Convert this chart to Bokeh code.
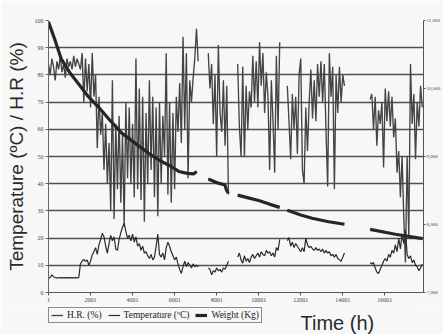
import numpy as np
from bokeh.plotting import figure
from bokeh.layouts import column
from bokeh.models import (Range1d, LinearAxis, FixedTicker, NumeralTickFormatter,
                          Legend, LegendItem, Label)
from bokeh.embed import file_html
from bokeh.resources import INLINE

# ---------------- data ----------------
STEP_H = 80  # hours between readings inside a recorded segment
seg_start = [1, 7601, 9001, 11361, 15301]

hr_1 = [84, 80, 86, 83, 78, 85, 82, 87, 81, 84, 79, 86, 83, 85, 82, 87, 83, 86, 84, 82, 88,
        70, 86, 74, 84, 68, 88, 72, 80,
        53, 72, 58, 66, 45, 62, 40, 55,
        30, 78, 27, 62, 38, 65, 33, 58, 25, 70, 42, 68, 40, 62, 35, 86, 38, 75, 34, 72, 26, 66, 40, 78,
        45, 72, 35, 68, 28, 70, 40, 65, 50, 88, 36, 70, 33, 66, 38, 72, 59, 77, 55, 94, 60, 88, 42,
        78, 70, 79, 86, 97, 85]
hr_2 = [88, 75, 84, 62, 80, 50, 91, 66, 59, 78, 54, 76, 36]
hr_3 = [84, 61, 50, 83, 50, 76, 60, 74, 68, 87, 70, 85, 68, 92, 76, 88, 66, 81, 72, 45, 78, 63,
        44, 87, 60, 92]
hr_4 = [76, 63, 49, 73, 60, 72, 51, 80, 86, 45, 40, 68, 52, 70, 82, 64, 78, 63, 84, 72, 85, 70,
        84, 60, 39, 88, 72, 83, 38, 80, 66, 83, 70, 80, 76]
hr_5 = [71, 73, 60, 72, 54, 67, 62, 70, 46, 75, 63, 74, 61, 72, 57, 64, 44, 52, 35, 50, 28, 11,
        50, 20, 84, 62, 73, 49, 70, 61, 76, 68]

temp_1 = [5.2, 5.5, 6.5, 5.8, 5.5, 5.3, 5.5, 5.4, 5.5, 5.4, 5.5, 5.4, 5.5, 5.4, 5.5, 5.4, 5.5, 5.4, 5.5,
          10.5, 11.5, 12.2, 11.4, 12.0, 10.0, 11.5, 13.8, 15.0, 16.5,
          14.0, 17.5, 19.5, 21.8, 20.5, 17.0, 14.5, 18.0, 21.0, 19.0,
          20.5, 16.0, 15.5, 19.5, 22.0, 24.0, 25.5, 22.5, 20.0, 21.0,
          19.0, 21.5, 18.5, 20.5, 17.0, 18.0, 15.5, 17.0, 14.5, 15.0,
          13.5, 12.5, 14.0, 12.0, 13.0, 17.0, 21.5, 14.0, 13.0, 14.5,
          12.0, 16.5, 18.5, 17.0, 15.0, 13.5, 12.0, 13.0, 10.5, 8.5,
          7.0, 9.5, 11.5, 9.5, 11.0, 10.0, 9.0, 10.5, 9.5, 10.0, 9.5]
temp_2 = [9.0, 8.5, 6.5, 8.0, 7.5, 9.0, 8.0, 8.5, 7.5, 9.0, 8.5, 10.0, 11.5]
temp_3 = [13.0, 14.5, 12.0, 10.8, 13.5, 11.5, 12.5, 11.0, 13.0, 14.0, 12.5, 13.5, 14.5, 13.0,
          15.0, 14.0, 13.5, 15.5, 14.5, 15.0, 13.5, 14.5, 13.0, 16.5, 15.5, 19.5]
temp_4 = [19.0, 20.2, 17.0, 18.5, 16.5, 18.0, 17.0, 16.0, 15.0, 16.5, 15.0, 20.0, 17.5, 16.5,
          17.0, 16.0, 15.5, 16.5, 15.5, 16.0, 15.0, 16.0, 14.5, 15.5, 14.5, 15.0, 13.5, 14.0,
          13.0, 14.0, 12.5, 12.0, 11.5, 13.0, 14.5]
temp_5 = [11.0, 10.5, 11.0, 9.0, 7.5, 7.0, 8.5, 10.0, 11.5, 12.5, 11.5, 14.0, 13.0, 15.5, 14.5,
          17.5, 15.0, 20.0, 16.0, 21.5, 18.0, 23.0, 14.0, 12.5, 13.5, 11.0, 12.0, 10.0, 9.5,
          8.0, 9.0, 10.5]

w_t1 = [1, 300, 600, 1000, 1500, 1900, 2400, 2900, 3500, 4100, 4800, 5300, 5800, 6200, 6600, 6900, 7050]
w_kg1 = [10980, 10720, 10440, 10240, 10040, 9880, 9720, 9540, 9340, 9200, 9040, 8940, 8860, 8780,
         8752, 8744, 8780]
w_t2 = [7600, 8080, 8400, 8450, 8550]
w_kg2 = [8668, 8608, 8580, 8520, 8460]
w_t3 = [9000, 9500, 10000, 10500, 11000]
w_kg3 = [8432, 8392, 8352, 8300, 8252]
w_t4 = [11360, 12000, 12540, 13330, 14080]
w_kg4 = [8208, 8140, 8092, 8040, 8004]
w_t5 = [15300, 16500, 17800]
w_kg5 = [7928, 7856, 7792]

x_ticks = [1, 2001, 4001, 6001, 8001, 10001, 12001, 14001, 16001]
left_ticks = [0, 10, 20, 30, 40, 50, 60, 70, 80, 90, 100]
grid_ticks = [10, 20, 30, 40, 50, 60, 70, 80, 90]
kg_ticks = [7000, 8000, 9000, 10000, 11000]


def join_grid(starts, segs):
    xs, ys = [], []
    for s, seg in zip(starts, segs):
        if xs:
            xs.append(np.nan)
            ys.append(np.nan)
        xs.extend(s + STEP_H * i for i in range(len(seg)))
        ys.extend(seg)
    return xs, ys


def join_explicit(tlists, vlists):
    xs, ys = [], []
    for t, v in zip(tlists, vlists):
        if xs:
            xs.append(np.nan)
            ys.append(np.nan)
        xs.extend(t)
        ys.extend(v)
    return xs, ys


hr_x, hr_y = join_grid(seg_start, [hr_1, hr_2, hr_3, hr_4, hr_5])
tp_x, tp_y = join_grid(seg_start, [temp_1, temp_2, temp_3, temp_4, temp_5])
w_x, w_y = join_explicit([w_t1, w_t2, w_t3, w_t4, w_t5], [w_kg1, w_kg2, w_kg3, w_kg4, w_kg5])

# ---------------- styles ----------------
BG = "#f7f7f7"
HR_STYLE = dict(line_color="#444444", line_width=1.35)
TP_STYLE = dict(line_color="#2a2a2a", line_width=1.2)
W_STYLE = dict(line_color="#262626", line_width=3.2)
TICK_FONT = "Liberation Serif"


def style_axis(ax, size, tick_out, standoff, color):
    ax.axis_line_color = color
    ax.major_tick_line_color = color
    ax.major_tick_out = tick_out
    ax.major_tick_in = 0
    ax.minor_tick_line_color = None
    ax.minor_tick_out = 0
    ax.minor_tick_in = 0
    ax.major_label_text_font = TICK_FONT
    ax.major_label_text_font_size = size
    ax.major_label_text_color = "#444444"
    ax.major_label_standoff = standoff


# ---------------- main figure ----------------
p = figure(width=443, height=305, output_backend="svg", toolbar_location=None,
           x_range=Range1d(1, 17840), y_range=Range1d(0, 100),
           min_border_left=48, min_border_right=0, min_border_top=20, min_border_bottom=13)
p.background_fill_color = BG
p.border_fill_color = BG
p.outline_line_color = None
p.xgrid.visible = False
p.ygrid.ticker = FixedTicker(ticks=grid_ticks)
p.ygrid.grid_line_color = "#505050"
p.ygrid.grid_line_width = 1.4

p.extra_y_ranges = {"kg": Range1d(7000, 11000)}

p.line(hr_x, hr_y, **HR_STYLE)
p.line(tp_x, tp_y, **TP_STYLE)
p.line(w_x, w_y, y_range_name="kg", **W_STYLE)

xa = p.xaxis[0]
xa.ticker = FixedTicker(ticks=x_ticks)
style_axis(xa, "6px", 3, 2, "#555555")
xa.axis_label_standoff = 0

ya = p.yaxis[0]
ya.ticker = FixedTicker(ticks=left_ticks)
style_axis(ya, "6px", 3, 2, "#666666")
ya.axis_label = "Temperature (ºC) / H.R (%)"
ya.axis_label_text_font = "Liberation Sans"
ya.axis_label_text_font_size = "19px"
ya.axis_label_text_font_style = "normal"
ya.axis_label_text_color = "#2a2a2a"
ya.axis_label_standoff = 5

ra = LinearAxis(y_range_name="kg", ticker=FixedTicker(ticks=kg_ticks),
                formatter=NumeralTickFormatter(format="0,0"))
style_axis(ra, "5px", 2, 1, "#555555")
ra.axis_label_standoff = 0
p.add_layout(ra, "right")

# ---------------- strip below: legend + x title ----------------
q = figure(width=443, height=29, output_backend="svg", toolbar_location=None,
           x_range=Range1d(1, 17840), y_range=Range1d(-100, -50),
           x_axis_type=None, y_axis_type=None, min_border=0)
q.background_fill_color = BG
q.border_fill_color = BG
q.outline_line_color = None
q.grid.visible = False
# same series, kept hidden here: they only give the legend its line samples
k_hr = q.line(hr_x, hr_y, visible=False, **HR_STYLE)
k_tp = q.line(tp_x, tp_y, visible=False, **TP_STYLE)
k_w = q.line(w_x, w_y, visible=False, **W_STYLE)

legend = Legend(items=[LegendItem(label="H.R. (%)", renderers=[k_hr]),
                       LegendItem(label="Temperature (ºC)", renderers=[k_tp]),
                       LegendItem(label="Weight (Kg)", renderers=[k_w])],
                orientation="horizontal", location=(0, 11))
legend.label_text_font = TICK_FONT
legend.label_text_font_size = "9.5px"
legend.label_text_color = "#222222"
legend.label_height = 10
legend.glyph_height = 10
legend.glyph_width = 12
legend.label_standoff = 4
legend.spacing = 6
legend.padding = 2
legend.margin = 0
legend.border_line_color = "#222222"
legend.border_line_width = 1
legend.background_fill_color = BG
legend.background_fill_alpha = 1
q.add_layout(legend)

q.add_layout(Label(x=252, y=1, x_units="screen", y_units="screen", text="Time (h)",
                   text_font="Liberation Sans", text_font_size="20px",
                   text_color="#2a2a2a", text_baseline="bottom"))

layout = column(p, q, spacing=0)
open("out.html", "w").write(file_html(layout, INLINE))
